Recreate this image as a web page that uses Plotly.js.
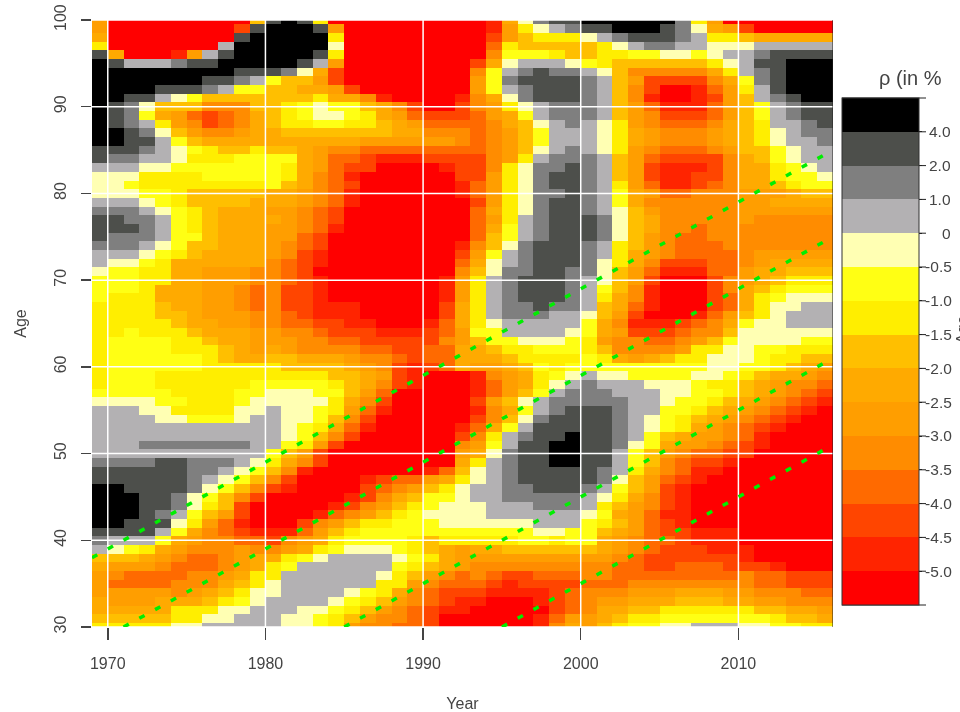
<!DOCTYPE html>
<html>
<head>
<meta charset="utf-8">
<script src="https://cdn.plot.ly/plotly-3.0.1.min.js"></script>
<style>
html,body{margin:0;padding:0;background:#fff;overflow:hidden}
#chart{width:960px;height:712px;filter:blur(0.6px)}
</style>
</head>
<body>
<div id="chart"></div>
<script>
// Level letters a..o, one per colour band. Rows run from age 100 down to age 30,
// run-length coded as "1969..1991 | 1992..2015" (letter + repeat count).
const levelLetters = "abcdefghijklmno";
const levelColors = ["#FF0000","#FF2400","#FF4500","#FF6A00","#FF8C00","#FF9E00","#FFAA00","#FFBF00","#FFEE00","#FFFF14","#FFFFB3","#B3B1B3","#7F7F7F","#4D4F4B","#000000"];
const levelTicks = ["-5.0","-4.5","-4.0","-3.5","-3.0","-2.5","-2.0","-1.5","-1.0","-0.5","\u2007\u2008\u20050","\u20051.0","\u20052.0","\u20054.0"];
const gridRows = [
"fa9hnonia8|a2bgkmn2o6mifa7",
"fa8cno3nfa7|a2bfiklmn2o3nmkgfca5",
"ga8no5ia7|a2cfhi3klmn3mli2hg5",
"ia7lo6ka7|a2dih5iklm2l2k3l5",
"nga3bflno5nia7|a2ej3ih2i2j2k2jkl2mn4",
"onl3mn2o5nlfa7|acgkl3kjih6ikln2o3",
"o9n3mkgca7|aejlmnm2lkhe5gilmno3",
"o7n2mljh2fca7|afjmn4mlhfc4egjmno3",
"o4n3mlj2h2g2fca6|afjlmn3mlheca2bdfilno3",
"o2n2lkjh7ig2eba4|begkmn3mlheba2bcfhlmno2",
"onmkh3e3h2ijkj2hgeca2|cefiklm3lhfdb3dfhjlmn2",
"onmjgfdcdeghijk2jigfdc2|cdfgjlm3lhfec3dfhjlmn2",
"onmlifecdeghi2j2i2hgfd2|d2eghklmlkifed3eghil2mn",
"o2nmkhfe2fg2h7g2e2|edefhjl3kigfe3fghiklm2",
"o2n2ljhg10f6|edefhjl3kigfe3fghikl2m",
"n3mlkjih2ih2gfe2d6|d2efhklmlkifed3efh2jkl2",
"nm2l2ki3j4gfd2cb3c2|c2efilm3lhfdc4eghjkl2",
"l3k2j7igfdc2a4b|c2eikm2nmlhfcb3ceg2ijkl",
"k3i4j5igedba6|c2fikmn2mlhfcb2c2eg2ij2k",
"k2ji8jhgedca6|bdfikmn2mlifdb2cdeg2hij2",
"k3j2ih5g2fedba6|bdfikm2nmljgfd2e3f3gh2",
"l3kjih4g3fedba6|acfikmn2mljge6f2g4",
"m3lkjihg3f2edca7|adgikmn2mlkhfe5f6",
"n2m2ljihg4fedca7|adfilmn3mkhge5fe5",
"n3mljihg3f2edba7|adgjlmn3mkhge2de8",
"nm3lj2hg3f2dca8|adhjlmn3mkhfed2e8",
"m3lkjh2g3fedca8|behkmn3mlihfed3e7",
"l3kjihg4fecba8|cfjlmn3mligfed4ef5",
"lk2jig6edcba8|dgklmn3mkigec3d2efg4",
"kj2i2g2f3e2dca9|ehkm2n2m2khfdb3d2fg2h3",
"j3i2g2f3e2dcba7b|filmn3mlkhfca3cefghi3",
"j3ig3f2edec2ba7b|filmn3mljheba3ceghij3",
"ji3g3f2edec2ba7b|filmn3mligeba3cdgijk3",
"i4hg2f2edec2b3a5c|gilm2nm2lhgdba3cdgik2l2",
"i4h2gf3e2dcb3a5c|gilm3l2khfca3bdfhikl3",
"i5hg2f2e2d2c2b2a3bd|gikl5jgeb3cdegjk2l3",
"i2ji3hg3f2e2dc3b3cd|fj2l4kjgfc3de2hk6",
"ij4i2hg2f3e2d2c5e|fhj2k3jife2d2efhjk4j2",
"ij4i3hgfgfe4d2c2d2|g2hi2j3ihe4fi2k2j2i3",
"ij6ihg2h2g3fe2dcd2|g3hi4jigfghi2k3ji2h2",
"ij6i5h4gfecbcd|gf2ghjij9k2j2ihgf",
"ij3i11h2gfcba2|abefgijklk2j4k2jihg2fe",
"ij3i6j5ihgecba2|abdfgiklml3k3ji2hgfe2d",
"j5i4j2k3j2hfda4|abdfhjlm3l3k2j2ihgfedc",
"k4j2i3jk5igeca4|acfhklm5l2kj2ihgfedcb",
"l3k2i4k2lk2jifdba4|abegjlmn3ml2j2ihgfedcba",
"l4k2j3kl2k2jheca5|acehkmn4mlkjihgfedcba2",
"l12kjigdba5|bdgjln5mlkjigfedcba3",
"l12kjheca6|ceilmn2on2mljhgf2edba4",
"l3m7l2jifca7|efjln2o2n2mkjgf2edcba4",
"l11jhfca8|fgkmn2o2n2ljhfed2c2a5",
"m4n2m3lkigeca8|gilmn2o2n2ljhedc2ba6",
"n6m2lkjheba7bd|hklmn5mligedb2a7",
"n6mlkjheca4bcd2fg|iklmn5mkhfdcba8",
"o2n4mkjhecba4cdefhi|kl2m2n3mljhfcba9",
"o3n2mkjheca5bceghj2|kl2m5lkigecba9",
"o3n2mkihca5bcefhijk|k2l3m3lihfecba9",
"o3nmljhfca4bdefhijk2|k2l6kjgfdb2a9",
"o2n3kifdba3cefhi2j3k|k5l3jihfdcba9",
"n4ljgedcb3dfhij6|j5k2j2hgfdc2b3a6",
"ml3jgfe2d2cefgij4ihi|i4j2ij2gfed2cb3a6",
"lkjigfe3fe2fgijk3jihg|fg2h6gfedc3b3a5",
"h3gfed2efg2ijkl4kjig|f10edc6ba5",
"gf3ed3efgijl6jihg|fe9d2c2d3c3ba3",
"fed4e2fgi2l6kihfe|dedc2d3e2d8ed2c3",
"fd4e3ghikl6i2fed|d2cbc4d3e8d2c3",
"f5efghik2l4kjigedc|c2b4cde3f3g3f2e3d2",
"gf3g3hijkl4kjihfedc|b2a3bcdef2g3h3g2f2e3",
"g5i3k2l3k2jihfedcb|ba5cdeg2h2i6h2g2f",
"h5i2k2l3k2jihfe2dca|a5bdf2ghi2j7ih2g",
"i5k2l5k2jife2d2ca|a5begfhij2k2l3k2j2i2"
];
const firstYear = 1969, lastYear = 2016, topAge = 100, bottomAge = 30;
const yearTicks = [1970,1980,1990,2000,2010];
const ageTicks = [30,40,50,60,70,80,90,100];
const cohortBirthYears = [1931,1941,1955,1965];

function decodeRow(s){
  const out = [];
  s.replace("|","").replace(/([a-o])(\d*)/g,(m,c,n)=>{
    for(let i=0;i<(n?+n:1);i++) out.push(levelLetters.indexOf(c));
    return m;
  });
  if(out.length!==47) throw new Error("bad row "+s+" "+out.length);
  return out;
}
const z = gridRows.map(decodeRow);
if(z.length!==71) throw new Error("bad rows "+z.length);
const years = z[0].map((_,i)=>firstYear+0.5+i);
const ages = z.map((_,i)=>topAge-i);

const nLevels = levelColors.length;
const colorscale = [];
levelColors.forEach((c,i)=>{colorscale.push([i/nLevels,c]);colorscale.push([(i+1)/nLevels,c]);});

const plotL=92, plotW=741, plotT=20, plotH=607;
const barL=842, barW=77, barT=98, barH=507, stubR=926;
const px = p=>(p-plotL)/plotW;
const py = p=>(plotT+plotH-p)/plotH;

const traces = [{
  type:"heatmap", x:years, y:ages, z:z, zmin:-0.5, zmax:nLevels-0.5,
  colorscale:colorscale, hoverinfo:"skip", xgap:0, ygap:0,
  colorbar:{
    x:px(barL), xanchor:"left", xpad:0, thickness:barW, thicknessmode:"pixels",
    y:py(barT+barH), yanchor:"bottom", ypad:0, len:barH, lenmode:"pixels",
    tickmode:"array", tickvals:levelTicks.map((_,i)=>i+0.5), ticktext:levelTicks,
    ticks:"outside", ticklen:3, tickwidth:1, tickcolor:"#222",
    tickfont:{family:"Liberation Sans",size:15.5,color:"#444"},
    outlinewidth:1, outlinecolor:"#333", borderwidth:0
  }
}];
yearTicks.forEach(v=>traces.push({type:"scatter",mode:"lines",x:[v,v],y:[bottomAge,topAge],
  line:{color:"#ffffff",width:1.5},hoverinfo:"skip",showlegend:false}));
ageTicks.forEach(v=>traces.push({type:"scatter",mode:"lines",x:[firstYear,lastYear],y:[v,v],
  line:{color:"#ffffff",width:1.5},hoverinfo:"skip",showlegend:false}));
cohortBirthYears.forEach(b=>{
  const x0=Math.max(firstYear,bottomAge+b), x1=lastYear-0.4;
  traces.push({type:"scatter",mode:"lines",x:[x0,x1],y:[x0-b,x1-b],
    line:{color:"#00EE00",width:3.5,dash:"6px,12px"},hoverinfo:"skip",showlegend:false});
});

const shapes = [{type:"line",xref:"x",yref:"y",x0:lastYear,x1:lastYear,y0:bottomAge,y1:topAge,
  line:{color:"#222",width:1}}];
for(let i=0;i<=nLevels;i++){
  const p = barT+barH-barH*i/nLevels;
  shapes.push({type:"line",xref:"paper",yref:"paper",x0:px(barL),x1:px(stubR),
    y0:py(p),y1:py(p),line:{color:"#222",width:1}});
}

const labelFont={family:"Liberation Sans",size:16,color:"#444"};
const layout = {
  width:960,height:712,paper_bgcolor:"#fff",plot_bgcolor:"#fff",showlegend:false,
  margin:{l:plotL,r:960-plotL-plotW,t:plotT,b:712-plotT-plotH,pad:0,autoexpand:false},
  font:labelFont,
  xaxis:{range:[firstYear,lastYear],tickmode:"array",tickvals:yearTicks,ticks:"outside",ticklen:12,
    tickwidth:1.5,tickcolor:"#444",showgrid:false,zeroline:false,showline:false,tickfont:labelFont,
    ticklabelstandoff:10,title:{text:"Year",font:labelFont,standoff:26}},
  yaxis:{range:[bottomAge,topAge],tickmode:"array",tickvals:ageTicks,ticks:"outside",ticklen:10,
    tickwidth:1.5,tickcolor:"#444",showgrid:false,zeroline:false,showline:false,tickfont:labelFont,
    tickangle:-90,ticklabelstandoff:9,title:{text:"Age",font:labelFont,standoff:20}},
  shapes:shapes,
  annotations:[
    {xref:"paper",yref:"paper",x:px(877),y:py(78),xanchor:"left",yanchor:"middle",showarrow:false,
     text:"ρ (in %",font:{family:"Liberation Sans",size:20,color:"#444"}},
    {xref:"paper",yref:"paper",x:px(963),y:py(330),xanchor:"center",yanchor:"middle",showarrow:false,
     textangle:-90,text:"Age",font:labelFont}
  ]
};
Plotly.newPlot("chart",traces,layout,{displayModeBar:false,staticPlot:true});
</script>
</body>
</html>
